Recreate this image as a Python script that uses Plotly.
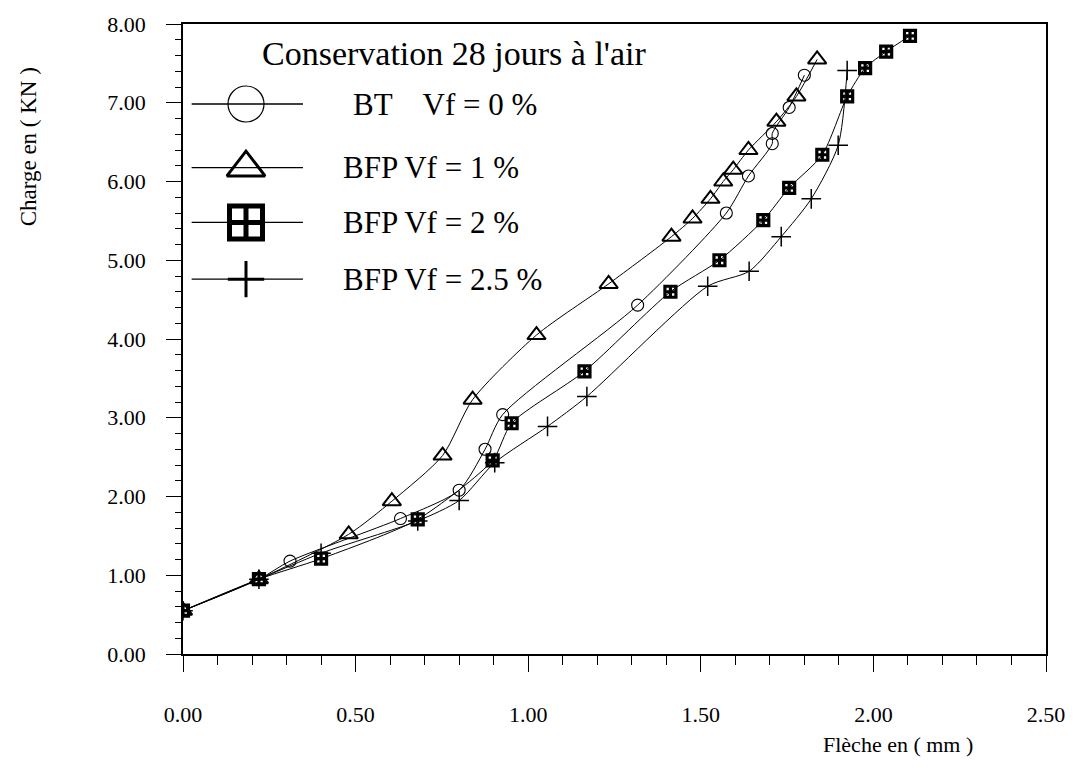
import plotly.graph_objects as go

# Load-deflection readings, 28 days air curing
bt_x = [0.00, 0.22, 0.31, 0.63, 0.80, 0.875, 0.926, 1.317, 1.574, 1.638, 1.707, 1.707, 1.756, 1.80]
bt_y = [0.55, 0.95, 1.18, 1.72, 2.08, 2.60, 3.04, 4.43, 5.60, 6.07, 6.48, 6.61, 6.94, 7.35]

bfp1_x = [0.00, 0.22, 0.48, 0.605, 0.752, 0.839, 1.024, 1.233, 1.415, 1.476, 1.528, 1.565, 1.594, 1.638, 1.719, 1.777, 1.837]
bfp1_y = [0.55, 0.95, 1.52, 1.94, 2.52, 3.23, 4.05, 4.70, 5.30, 5.53, 5.78, 6.00, 6.15, 6.40, 6.76, 7.08, 7.55]

bfp2_x = [0.00, 0.22, 0.40, 0.68, 0.897, 0.952, 1.163, 1.412, 1.554, 1.681, 1.756, 1.852, 1.924, 1.976, 2.037, 2.106]
bfp2_y = [0.55, 0.95, 1.21, 1.71, 2.46, 2.93, 3.59, 4.60, 5.00, 5.51, 5.92, 6.34, 7.08, 7.44, 7.65, 7.85]

bfp25_x = [0.00, 0.22, 0.40, 0.68, 0.80, 0.903, 1.056, 1.17, 1.52, 1.64, 1.733, 1.82, 1.898, 1.924]
bfp25_y = [0.55, 0.95, 1.28, 1.69, 1.95, 2.43, 2.89, 3.27, 4.67, 4.86, 5.30, 5.78, 6.46, 7.41]

series_names = ["BT    Vf = 0 %", "BFP Vf = 1 %", "BFP Vf = 2 %", "BFP Vf = 2.5 %"]
x_ticks = [0.0, 0.5, 1.0, 1.5, 2.0, 2.5]
y_ticks = [0, 1, 2, 3, 4, 5, 6, 7, 8]

FONT = "Liberation Serif"
INK = "black"

# marker styles: (symbol, size, line width) in the plot and in the key
plot_markers = [
    ("circle-open", 12, 1.1),
    ("triangle-up-open", 16, 2.0),
    ("square-cross-open", 11, 3.2),
    ("cross-thin-open", 14, 1.5),
]
key_markers = [
    ("circle-open", 36, 1.2),
    ("triangle-up-open", 33, 3.0),
    ("square-cross-open", 33, 5.0),
    ("cross-thin-open", 26, 3.0),
]

fig = go.Figure()

all_series = [(bt_x, bt_y), (bfp1_x, bfp1_y), (bfp2_x, bfp2_y), (bfp25_x, bfp25_y)]
for (xs, ys), name, (sym, size, lw) in zip(all_series, series_names, plot_markers):
    fig.add_trace(go.Scatter(
        x=xs, y=ys, name=name, mode="lines+markers", showlegend=False,
        line=dict(color=INK, width=1, shape="spline", smoothing=0.7),
        marker=dict(symbol=sym, size=size, color=INK, line=dict(color=INK, width=lw)),
    ))

# hand-drawn key in the upper-left corner (fractions of the plot area)
key_rows = [0.873, 0.772, 0.685, 0.595]
key_line = (0.010, 0.139)
key_mark_x = 0.073
key_text_x = [0.195, 0.183, 0.183, 0.183]
for row_y, name, (sym, size, lw), tx in zip(key_rows, series_names, key_markers, key_text_x):
    fig.add_trace(go.Scatter(
        x=list(key_line), y=[row_y, row_y], xaxis="x2", yaxis="y2", mode="lines",
        line=dict(color=INK, width=1.3), showlegend=False, hoverinfo="skip",
    ))
    fig.add_trace(go.Scatter(
        x=[key_mark_x], y=[row_y], xaxis="x2", yaxis="y2", mode="markers",
        marker=dict(symbol=sym, size=size, color=INK, line=dict(color=INK, width=lw)),
        showlegend=False, hoverinfo="skip",
    ))
    fig.add_annotation(
        x=tx, y=row_y, xref="paper", yref="paper", text=name, showarrow=False,
        xanchor="left", yanchor="middle", font=dict(family=FONT, size=31, color=INK),
    )

fig.add_annotation(
    x=0.089, y=0.953, xref="paper", yref="paper", text="Conservation 28 jours à l'air",
    showarrow=False, xanchor="left", yanchor="middle",
    font=dict(family=FONT, size=34, color=INK),
)

# axis titles
fig.add_annotation(
    x=-0.179, y=0.805, xref="paper", yref="paper", text="Charge en ( KN )",
    showarrow=False, textangle=-90, xanchor="center", yanchor="middle",
    font=dict(family=FONT, size=23, color=INK),
)
fig.add_annotation(
    x=0.829, y=-0.144, xref="paper", yref="paper", text="Flèche en ( mm )",
    showarrow=False, xanchor="center", yanchor="middle",
    font=dict(family=FONT, size=22, color=INK),
)

axis_common = dict(
    showline=True, linecolor=INK, linewidth=1.8, mirror=True,
    showgrid=False, zeroline=False, ticks="outside", tickcolor=INK, tickwidth=1,
    tickfont=dict(family=FONT, size=22, color=INK), tickformat=".2f",
)

fig.update_layout(
    width=1077, height=771, autosize=False,
    paper_bgcolor="white", plot_bgcolor="white",
    margin=dict(l=183, r=29, t=22, b=117),
    xaxis=dict(
        range=[0, 2.5], tickvals=x_ticks, ticklen=16, ticklabelstandoff=24,
        minor=dict(dtick=0.1, ticklen=9, ticks="outside", tickcolor=INK, tickwidth=1),
        **axis_common,
    ),
    yaxis=dict(
        range=[0, 8], tickvals=y_ticks, ticklen=15, ticklabelstandoff=16,
        minor=dict(dtick=0.2, ticklen=6, ticks="outside", tickcolor=INK, tickwidth=1),
        **axis_common,
    ),
    xaxis2=dict(overlaying="x", range=[0, 1], visible=False, fixedrange=True),
    yaxis2=dict(overlaying="y", range=[0, 1], visible=False, fixedrange=True),
    showlegend=False,
)

fig.write_html("out.html")
